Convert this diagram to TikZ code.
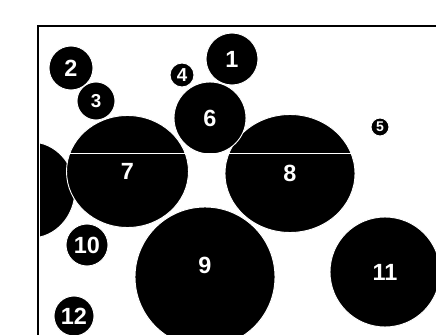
\documentclass[tikz,border=0pt]{standalone}
\usepackage{fontspec}
\setsansfont{Liberation Sans}
\usetikzlibrary{shapes.geometric}

\begin{document}
\begin{tikzpicture}[
    x=0.03cm, y=-0.03cm,
    font=\sffamily\bfseries\fontsize{20}{20}\selectfont,
    % Styles for the labelled regions
    blob/.style={circle, fill=black, draw=white, line width=0.8pt, text=white, inner sep=0pt, minimum size=#1*0.06cm},
    oval/.style 2 args={ellipse, fill=black, draw=white, line width=0.8pt, text=white, inner sep=0pt, minimum width=#1*0.06cm, minimum height=#2*0.06cm},
    smalllabel/.style={font=\sffamily\bfseries\fontsize{16}{16}\selectfont},
    tinylabel/.style={font=\sffamily\bfseries\fontsize{12}{12}\selectfont},
    frameline/.style={draw=black, line width=1.4pt},
    cutline/.style={draw=white, line width=0.6pt}
]
\clip (0,0) rectangle (436,335);

% ----------------------------------------------------
% Frame
% ----------------------------------------------------
\coordinate (corner) at (38,26);
\draw[frameline] (38,340) -- (corner) -- (440,26);

% ----------------------------------------------------
% Regions
% ----------------------------------------------------
% region cut by the left edge of the frame
\begin{scope}
    \clip (40,26) rectangle (436,335);
    \node[oval={44}{48}] (b0) at (31,190) {};
\end{scope}

\node[blob=70, label={[text=white, yshift=0.36cm]center:9}] (b9) at (205,277) {};
\node[oval={61}{56}] (b7) at (127.5,171.5) {7};
\node[oval={65}{59}] (b8) at (290,173.5) {8};
\node[blob=36] (b6) at (210,118) {6};
\node[blob=26] (b1) at (232,59) {1};
\node[blob=22] (b2) at (71,68) {2};
\node[blob=19, smalllabel] (b3) at (96,101) {3};
\node[blob=12, smalllabel] (b4) at (182,75) {4};
\node[blob=9, tinylabel] (b5) at (380,127) {5};
\node[blob=21] (b10) at (87,245) {10};
\node[blob=55] (b11) at (385,272) {11};
\node[blob=20] (b12) at (74,316) {12};

% thin white cut through 7 and 8
\coordinate (cutW) at (67,153);
\coordinate (cutE) at (354,153);
\draw[cutline] (cutW) -- (cutE);

\end{tikzpicture}
\end{document}
